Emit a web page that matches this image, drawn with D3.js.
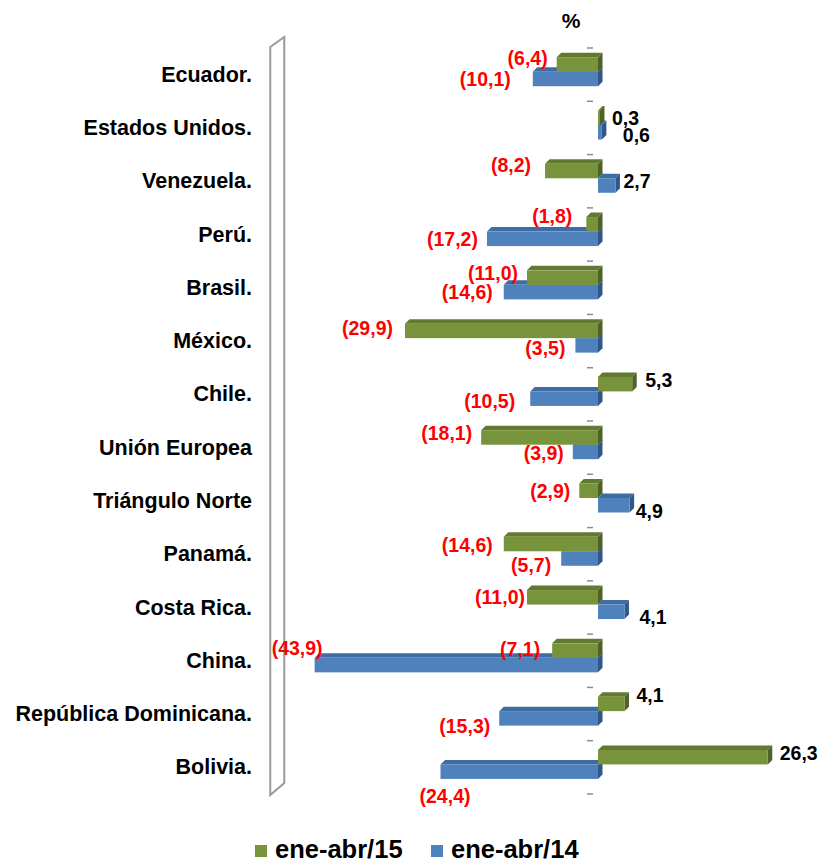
<!DOCTYPE html>
<html>
<head>
<meta charset="utf-8">
<script src="https://cdnjs.cloudflare.com/ajax/libs/d3/7.8.5/d3.min.js"></script>
<style>
  html, body { margin: 0; padding: 0; background: #ffffff; }
  svg { display: block; font-family: "Liberation Sans", Arial, sans-serif; }
</style>
</head>
<body>
<svg id="chart" width="819" height="862"></svg>
<script>
// Variación porcentual de exportaciones por destino
const categories = [
  "Ecuador.", "Estados Unidos.", "Venezuela.", "Perú.", "Brasil.", "México.",
  "Chile.", "Unión Europea", "Triángulo Norte", "Panamá.", "Costa Rica.",
  "China.", "República Dominicana.", "Bolivia."
];
const seriesNames = ["ene-abr/15", "ene-abr/14"];
const values15 = [-6.4, 0.3, -8.2, -1.8, -11.0, -29.9, 5.3, -18.1, -2.9, -14.6, -11.0, -7.1, 4.1, 26.3];
const values14 = [-10.1, 0.6, 2.7, -17.2, -14.6, -3.5, -10.5, -3.9, 4.9, -5.7, 4.1, -43.9, -15.3, -24.4];
const unitLabel = "%";

// Nudges for the data labels so they don't collide [dx, dy]
const labelNudge15 = [[-9,-6],[12,0],[-14,-6],[-14,-8],[-9,-5],[-12,-3],[13,-4],[-9,-4],[-9,0],[-11,1],[-2,0],[-12,-2],[12,-9],[12,-4]];
const labelNudge14 = [[-22,0],[21,3],[8,-5],[-9,0],[-11,0],[-10,3],[-15,2],[-9,1],[6,6],[-10,6],[15,5],[8,-17],[-9,8],[30,24]];

const colors = {
  "ene-abr/15": { front: "#77933C", top: "#62792F", side: "#4E6126" },
  "ene-abr/14": { front: "#4F81BD", top: "#3F6CA3", side: "#31578A" }
};

const svg = d3.select("#chart");
const depth = 4.5;

const x = d3.scaleLinear().domain([-50, 30]).range([275.25, 791.65]);
const y = d3.scaleBand().domain(categories).range([48, 794]).paddingInner(0).paddingOuter(0);
const bw = y.bandwidth();
const barH = bw * 0.272;
const barOff = bw * 0.173;

// Back wall on the left
const wx = x(-50) - 5;
const [r0, r1] = y.range();
svg.append("path")
  .attr("d", `M${wx},${r0 - 1} L${wx + 14},${r0 - 11} L${wx + 14},${r1 - 11} L${wx},${r1 + 1} Z`)
  .attr("fill", "#ffffff")
  .attr("stroke", "#9a9a9a")
  .attr("stroke-width", 2);

// Category tick marks at band boundaries
const bounds = categories.map(c => y(c)).concat([r1]);
svg.append("g").selectAll("line").data(bounds).join("line")
  .attr("x1", x(0) - 11).attr("x2", x(0) - 5)
  .attr("y1", d => d).attr("y2", d => d)
  .attr("stroke", "#8c8c8c").attr("stroke-width", 1.5);

// Category labels
svg.append("g").selectAll("text").data(categories).join("text")
  .attr("x", 252)
  .attr("y", d => y(d) + bw / 2)
  .attr("text-anchor", "end")
  .attr("dominant-baseline", "central")
  .attr("font-size", 21.5)
  .attr("font-weight", "bold")
  .attr("fill", "#000")
  .text(d => d);

// Build bar records; blue series drawn first so green sits in front
const bars = [];
categories.forEach((c, i) => {
  bars.push({ cat: c, series: "ene-abr/14", v: values14[i], slot: 1, nudge: labelNudge14[i] });
  bars.push({ cat: c, series: "ene-abr/15", v: values15[i], slot: 0, nudge: labelNudge15[i] });
});
bars.sort((a, b) => b.slot - a.slot);

const gBars = svg.append("g");
bars.forEach(b => {
  const x0 = Math.min(x(0), x(b.v));
  const x1 = Math.max(x(0), x(b.v));
  const yt = y(b.cat) + barOff + b.slot * barH;
  const col = colors[b.series];
  const g = gBars.append("g");
  // top face
  g.append("path")
    .attr("d", `M${x0},${yt} L${x0 + depth},${yt - depth} L${x1 + depth},${yt - depth} L${x1},${yt} Z`)
    .attr("fill", col.top);
  // side face
  g.append("path")
    .attr("d", `M${x1},${yt} L${x1 + depth},${yt - depth} L${x1 + depth},${yt + barH - depth} L${x1},${yt + barH} Z`)
    .attr("fill", col.side);
  // front face
  g.append("rect")
    .attr("x", x0).attr("y", yt)
    .attr("width", x1 - x0).attr("height", barH)
    .attr("fill", col.front);
  b.x0 = x0; b.x1 = x1; b.yc = yt + barH / 2;
});

// Data labels: negatives in red with parentheses
const fmt = v => Math.abs(v).toFixed(1).replace(".", ",");
svg.append("g").selectAll("text").data(bars).join("text")
  .attr("x", d => (d.v < 0 ? d.x0 : d.x1) + d.nudge[0])
  .attr("y", d => d.yc + d.nudge[1])
  .attr("text-anchor", d => d.v < 0 ? "end" : "start")
  .attr("dominant-baseline", "central")
  .attr("font-size", 19.5)
  .attr("font-weight", "bold")
  .attr("fill", d => d.v < 0 ? "#FF0000" : "#000000")
  .text(d => d.v < 0 ? `(${fmt(d.v)})` : fmt(d.v));

// Unit label
svg.append("text")
  .attr("x", 571).attr("y", 28)
  .attr("text-anchor", "middle")
  .attr("font-size", 21)
  .attr("font-weight", "bold")
  .text(unitLabel);

// Legend
const legendX = [255, 431];
const lg = svg.append("g").selectAll("g").data(seriesNames).join("g")
  .attr("transform", (d, i) => `translate(${legendX[i]},845)`);
lg.append("rect").attr("width", 12).attr("height", 12).attr("fill", d => colors[d].front);
lg.append("text")
  .attr("x", 20).attr("y", 13)
  .attr("font-size", 25.5)
  .attr("font-weight", "bold")
  .text(d => d);
</script>
</body>
</html>
